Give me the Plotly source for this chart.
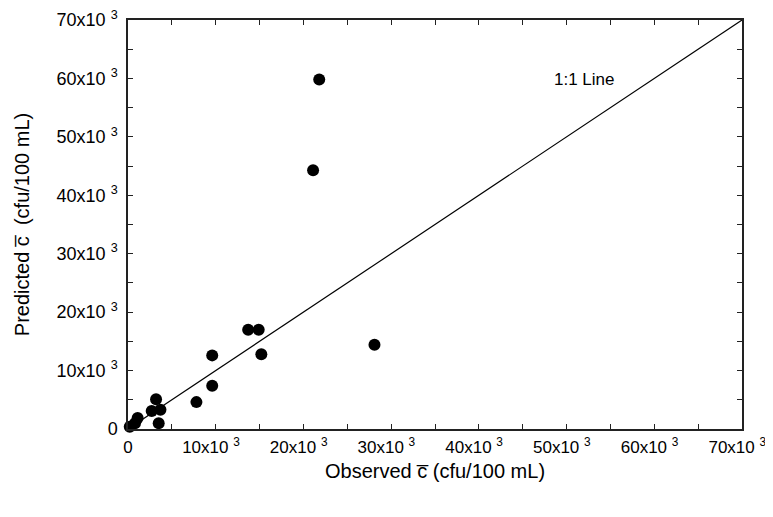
import plotly.graph_objects as go

# observed vs predicted mean concentration (cfu/100 mL)
observed = [21800, 21100, 28100, 13700, 14900, 15200, 9600, 9600, 7800,
            3200, 2700, 3700, 3500, 1100, 800, 200]
predicted = [59800, 44300, 14400, 17000, 17000, 12800, 12600, 7400, 4600,
             5100, 3100, 3300, 1000, 1900, 1000, 400]

line_x = [0, 70000]
line_y = [0, 70000]

tick_vals = [0, 10000, 20000, 30000, 40000, 50000, 60000, 70000]
y_tick_text = ["0"] + [f"{v // 1000}x10 <sup>3</sup>" for v in tick_vals[1:]]
# trailing spaces nudge the x labels slightly left of their ticks, as in the original
x_tick_text = ["0"] + [f"{v // 1000}x10 <sup>3</sup>\u00a0\u00a0" for v in tick_vals[1:]]

font = "Liberation Sans, Arial, Helvetica, sans-serif"

fig = go.Figure()

fig.add_trace(
    go.Scatter(
        x=line_x,
        y=line_y,
        mode="lines",
        line=dict(color="black", width=1.2),
        showlegend=False,
        hoverinfo="skip",
    )
)

fig.add_trace(
    go.Scatter(
        x=observed,
        y=predicted,
        mode="markers",
        marker=dict(color="black", size=12),
        showlegend=False,
        cliponaxis=False,
    )
)

fig.add_annotation(
    x=52100,
    y=59800,
    text="1:1 Line",
    showarrow=False,
    font=dict(size=17, color="black", family=font),
)

axis_common = dict(
    range=[0, 70000],
    tickvals=tick_vals,
    ticks="inside",
    ticklen=5,
    tickwidth=1,
    tickcolor="#222",
    minor=dict(dtick=5000, ticks="inside", ticklen=5, tickcolor="#222"),
    showline=True,
    linecolor="#222",
    linewidth=1.5,
    mirror="ticks",
    showgrid=False,
    zeroline=False,
    automargin=False,
    ticklabeloverflow="allow",
)

fig.update_xaxes(
    **axis_common,
    ticktext=x_tick_text,
    tickfont=dict(size=17, color="black", family=font),
    ticklabelstandoff=2,
    title=dict(text="Observed c\u0305 (cfu/100 mL)", standoff=8,
               font=dict(size=20, color="black", family=font)),
)
fig.update_yaxes(
    **axis_common,
    ticktext=y_tick_text,
    tickfont=dict(size=18, color="black", family=font),
    ticklabelstandoff=5,
    title=dict(text="Predicted c\u0305  (cfu/100 mL)", standoff=22,
               font=dict(size=20, color="black", family=font)),
)

# the page adds an 8px body margin, so the figure is sized and offset for it
fig.update_layout(
    width=765,
    height=509,
    margin=dict(l=120, r=31, t=12, b=88),
    plot_bgcolor="white",
    paper_bgcolor="white",
    font=dict(family=font, color="black"),
)

fig.write_html("out.html")
